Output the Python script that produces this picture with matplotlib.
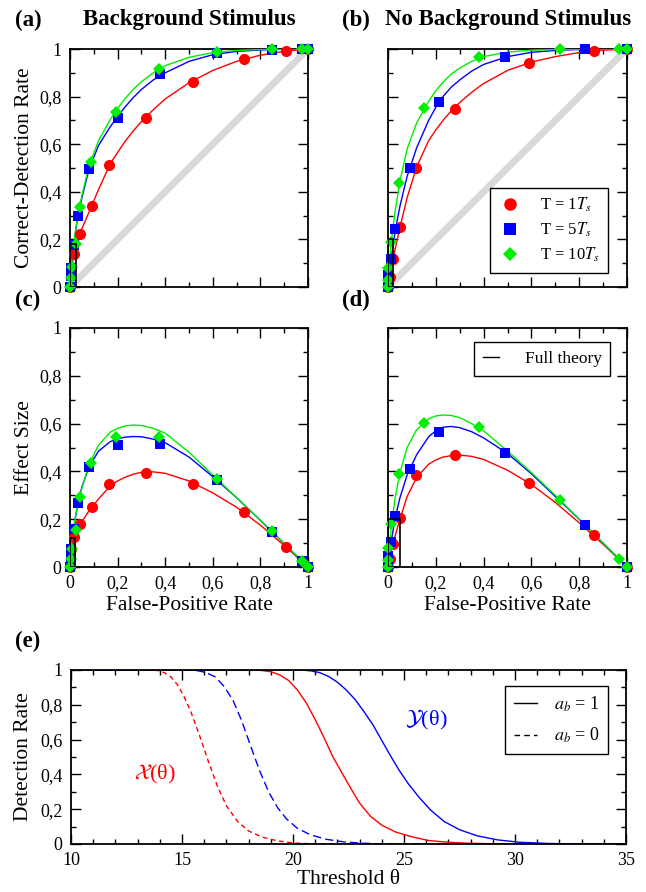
import matplotlib
matplotlib.use("Agg")
import matplotlib.pyplot as plt
from matplotlib.ticker import MultipleLocator, FuncFormatter
from matplotlib.lines import Line2D
from matplotlib.patches import Rectangle

plt.rcParams['font.family'] = ['Liberation Serif', 'DejaVu Serif']
plt.rcParams['mathtext.fontset'] = 'stix'

# ---- theory curves: false-positive grid shared by all ROC / effect-size curves
fpr_grid = [0, 0.002, 0.006, 0.015, 0.03, 0.05, 0.08, 0.12, 0.17, 0.2, 0.23, 0.265, 0.3, 0.35, 0.4, 0.5, 0.6, 0.7, 0.8, 0.9, 1.0]

# (a) background stimulus, correct-detection rate
roc_a_red = [0, 0.04, 0.08, 0.13, 0.19, 0.245, 0.315, 0.41, 0.52, 0.565, 0.61, 0.655, 0.695, 0.745, 0.79, 0.858, 0.91, 0.948, 0.974, 0.99, 1.0]
roc_a_blue = [0, 0.045, 0.09, 0.17, 0.28, 0.375, 0.495, 0.595, 0.675, 0.715, 0.755, 0.795, 0.83, 0.87, 0.90, 0.948, 0.976, 0.99, 0.996, 0.999, 1.0]
roc_a_green = [0, 0.05, 0.095, 0.175, 0.285, 0.385, 0.51, 0.615, 0.705, 0.75, 0.79, 0.83, 0.862, 0.90, 0.93, 0.965, 0.985, 0.994, 0.998, 1.0, 1.0]
# (b) no background stimulus
roc_b_red = [0, 0.02, 0.045, 0.09, 0.16, 0.25, 0.375, 0.505, 0.615, 0.66, 0.70, 0.74, 0.775, 0.818, 0.855, 0.91, 0.945, 0.968, 0.985, 0.995, 1.0]
roc_b_blue = [0, 0.03, 0.065, 0.13, 0.235, 0.34, 0.465, 0.585, 0.70, 0.755, 0.80, 0.84, 0.87, 0.907, 0.935, 0.968, 0.986, 0.994, 0.998, 1.0, 1.0]
roc_b_green = [0, 0.05, 0.10, 0.20, 0.32, 0.445, 0.58, 0.69, 0.78, 0.825, 0.86, 0.895, 0.92, 0.948, 0.968, 0.987, 0.995, 0.998, 0.999, 1.0, 1.0]
# (c) effect size, background stimulus
es_c_red = [0, 0.035, 0.07, 0.11, 0.155, 0.19, 0.235, 0.285, 0.34, 0.36, 0.375, 0.388, 0.396, 0.398, 0.392, 0.36, 0.31, 0.25, 0.175, 0.09, 0]
es_c_blue = [0, 0.04, 0.085, 0.16, 0.25, 0.335, 0.42, 0.485, 0.525, 0.537, 0.543, 0.546, 0.545, 0.535, 0.52, 0.46, 0.378, 0.29, 0.195, 0.098, 0]
es_c_green = [0, 0.045, 0.09, 0.165, 0.25, 0.33, 0.43, 0.51, 0.565, 0.58, 0.59, 0.594, 0.592, 0.58, 0.56, 0.48, 0.385, 0.29, 0.195, 0.098, 0]
# (d) effect size, no background stimulus
es_d_red = [0, 0.018, 0.04, 0.075, 0.13, 0.2, 0.295, 0.375, 0.43, 0.448, 0.46, 0.466, 0.468, 0.463, 0.45, 0.405, 0.345, 0.27, 0.185, 0.095, 0]
es_d_blue = [0, 0.028, 0.06, 0.115, 0.205, 0.29, 0.385, 0.47, 0.545, 0.57, 0.585, 0.588, 0.583, 0.566, 0.54, 0.475, 0.39, 0.295, 0.2, 0.1, 0]
es_d_green = [0, 0.045, 0.09, 0.18, 0.29, 0.395, 0.5, 0.575, 0.62, 0.632, 0.636, 0.634, 0.625, 0.60, 0.57, 0.485, 0.395, 0.3, 0.2, 0.1, 0]

# ---- simulation markers
a_red_fpr = [0, 0.005, 0.015, 0.042, 0.091, 0.164, 0.318, 0.515, 0.729, 0.906, 1]
a_red_cdr = [0, 0.08, 0.14, 0.224, 0.342, 0.511, 0.711, 0.861, 0.959, 0.99, 1]
a_red_es = [0, 0.075, 0.125, 0.182, 0.251, 0.347, 0.393, 0.346, 0.23, 0.084, 0]
a_blue_fpr = [0, 0.004, 0.006, 0.018, 0.032, 0.078, 0.2, 0.38, 0.617, 0.85, 0.976, 1]
a_blue_cdr = [0, 0.045, 0.08, 0.178, 0.30, 0.497, 0.709, 0.895, 0.982, 0.996, 1, 1]
a_blue_es = [0, 0.041, 0.074, 0.16, 0.268, 0.419, 0.509, 0.515, 0.365, 0.146, 0.024, 0]
a_green_fpr = [0, 0.004, 0.008, 0.024, 0.042, 0.088, 0.192, 0.373, 0.617, 0.85, 0.976, 1]
a_green_cdr = [0, 0.038, 0.084, 0.18, 0.336, 0.525, 0.734, 0.917, 0.987, 0.999, 1, 1]
a_green_es = [0, 0.034, 0.076, 0.156, 0.294, 0.437, 0.542, 0.544, 0.37, 0.149, 0.024, 0]

b_red_fpr = [0, 0.008, 0.022, 0.05, 0.117, 0.281, 0.59, 0.86, 1]
b_red_cdr = [0, 0.04, 0.117, 0.254, 0.501, 0.75, 0.94, 0.993, 1]
b_red_es = [0, 0.032, 0.095, 0.204, 0.384, 0.469, 0.35, 0.133, 0]
b_blue_fpr = [0, 0.002, 0.014, 0.031, 0.092, 0.214, 0.49, 0.825, 1]
b_blue_cdr = [0, 0.05, 0.119, 0.244, 0.501, 0.778, 0.966, 0.999, 1]
b_blue_es = [0, 0.048, 0.105, 0.213, 0.409, 0.564, 0.476, 0.174, 0]
b_green_fpr = [0, 0.001, 0.002, 0.013, 0.046, 0.152, 0.381, 0.72, 0.968, 1]
b_green_cdr = [0, 0.03, 0.08, 0.191, 0.436, 0.753, 0.966, 0.999, 1, 1]
b_green_es = [0, 0.029, 0.078, 0.178, 0.39, 0.601, 0.585, 0.279, 0.032, 0]

# ---- (e) detection rate vs threshold
x_dash_theta = [10, 13.6, 13.9, 14.2, 14.5, 14.8, 15.1, 15.4, 15.8, 16.2, 16.6, 17.0, 17.5, 18.0, 18.6, 19.3, 20.0, 21.0, 35]
x_dash_rate = [1, 1, 0.997, 0.985, 0.96, 0.915, 0.845, 0.76, 0.62, 0.47, 0.33, 0.22, 0.13, 0.075, 0.04, 0.018, 0.006, 0.0, 0]
y_dash_theta = [10, 15.3, 15.7, 16.1, 16.5, 16.9, 17.3, 17.7, 18.1, 18.5, 18.9, 19.3, 19.7, 20.2, 20.8, 21.5, 22.3, 23.2, 24.2, 35]
y_dash_rate = [1, 1, 0.996, 0.985, 0.96, 0.905, 0.825, 0.705, 0.56, 0.42, 0.30, 0.21, 0.145, 0.09, 0.052, 0.027, 0.012, 0.004, 0.0, 0]
x_solid_theta = [10, 18.2, 18.6, 19.0, 19.4, 19.8, 20.2, 20.6, 21.0, 21.4, 21.8, 22.2, 22.6, 23.0, 23.5, 24.0, 24.6, 25.3, 26.1, 27.0, 28.0, 29.5, 35]
x_solid_rate = [1, 1, 0.997, 0.99, 0.972, 0.94, 0.885, 0.81, 0.715, 0.61, 0.50, 0.41, 0.32, 0.235, 0.158, 0.108, 0.07, 0.043, 0.02, 0.01, 0.004, 0.0, 0]
y_solid_theta = [10, 20.4, 20.8, 21.2, 21.6, 22.0, 22.4, 22.8, 23.2, 23.6, 24.0, 24.4, 24.8, 25.2, 25.7, 26.2, 26.8, 27.5, 28.3, 29.2, 30.2, 31.5, 33, 35]
y_solid_rate = [1, 1, 0.995, 0.985, 0.963, 0.93, 0.885, 0.83, 0.76, 0.685, 0.595, 0.505, 0.42, 0.345, 0.265, 0.195, 0.13, 0.082, 0.047, 0.024, 0.01, 0.003, 0, 0]

RED, BLUE, GREEN = '#ff0000', '#0000ff', '#00ee00'
series_labels = ['T = 1$T_s$', 'T = 5$T_s$', 'T = 10$T_s$']


def comma(v, pos):
    if abs(v - round(v)) < 1e-9:
        return str(int(round(v)))
    return f'{v:.1f}'.replace('.', ',')


def ticks(ax):
    ax.tick_params(which='both', direction='in', top=True, right=True, width=1.0, labelsize=13, pad=6)
    ax.tick_params(which='major', length=7)
    ax.tick_params(which='minor', length=3.5)
    for s in ax.spines.values():
        s.set_linewidth(1.3)


def style(ax, xlab=True, ylab=True):
    ax.set_xlim(0, 1)
    ax.set_ylim(0, 1)
    ax.xaxis.set_major_locator(MultipleLocator(0.2))
    ax.xaxis.set_minor_locator(MultipleLocator(0.1))
    ax.yaxis.set_major_locator(MultipleLocator(0.2))
    ax.yaxis.set_minor_locator(MultipleLocator(0.1))
    ax.xaxis.set_major_formatter(FuncFormatter(comma))
    ax.yaxis.set_major_formatter(FuncFormatter(comma))
    ticks(ax)
    if not xlab:
        ax.tick_params(labelbottom=False)
    if not ylab:
        ax.tick_params(labelleft=False)


def markers(ax, r, b, g):
    ax.plot(r[0], r[1], 'o', color=RED, ms=8, mew=0, clip_on=False, zorder=4)
    ax.plot(b[0], b[1], 's', color=BLUE, ms=7, mew=0, clip_on=False, zorder=5)
    ax.plot(g[0], g[1], 'D', color=GREEN, ms=6.5, mew=0, clip_on=False, zorder=6)


def curves(ax, r, b, g):
    ax.plot(fpr_grid, r, color=RED, lw=1.0, zorder=3)
    ax.plot(fpr_grid, b, color=BLUE, lw=1.0, zorder=3)
    ax.plot(fpr_grid, g, color=GREEN, lw=1.0, zorder=3)


def framed(leg):
    leg.get_frame().set_linewidth(1.0)
    leg.set_zorder(10)


fig = plt.figure(figsize=(6.46, 8.92), dpi=100)
W, H = 646, 892


def box(l, t, r, b):
    return [l / W, 1 - b / H, (r - l) / W, (b - t) / H]


ax_a = fig.add_axes(box(70, 49, 308, 287))
ax_b = fig.add_axes(box(388, 49, 627, 287))
ax_c = fig.add_axes(box(70, 328, 308, 567))
ax_d = fig.add_axes(box(388, 328, 627, 567))
ax_e = fig.add_axes(box(71, 670, 626, 844))

# (a)
ax_a.plot([0, 1], [0, 1], color='#d9d9d9', lw=5, zorder=1, solid_capstyle='butt')
curves(ax_a, roc_a_red, roc_a_blue, roc_a_green)
markers(ax_a, (a_red_fpr, a_red_cdr), (a_blue_fpr, a_blue_cdr), (a_green_fpr, a_green_cdr))
ax_a.add_patch(Rectangle((0, 0), 0.025, 0.18, fill=False, ec='black', lw=1.2, zorder=7))
style(ax_a, xlab=False)
ax_a.set_ylabel('Correct-Detection Rate', fontsize=15.5)
ax_a.yaxis.set_label_coords(-0.15, 0.5)

# (b)
ax_b.plot([0, 1], [0, 1], color='#d9d9d9', lw=5, zorder=1, solid_capstyle='butt')
curves(ax_b, roc_b_red, roc_b_blue, roc_b_green)
markers(ax_b, (b_red_fpr, b_red_cdr), (b_blue_fpr, b_blue_cdr), (b_green_fpr, b_green_cdr))
ax_b.add_patch(Rectangle((0, 0), 0.022, 0.2, fill=False, ec='black', lw=1.2, zorder=7))
style(ax_b, xlab=False, ylab=False)
handles = [Line2D([], [], ls='', marker='o', color=RED, ms=9, mew=0),
           Line2D([], [], ls='', marker='s', color=BLUE, ms=8, mew=0),
           Line2D([], [], ls='', marker='D', color=GREEN, ms=7, mew=0)]
framed(ax_b.legend(handles, series_labels, loc='lower right', bbox_to_anchor=(0.92, 0.06),
                   fontsize=12, frameon=True, fancybox=False, edgecolor='black',
                   framealpha=1, handlelength=1.4, handletextpad=1.1, labelspacing=0.4,
                   borderpad=0.5, borderaxespad=0))

# (c)
curves(ax_c, es_c_red, es_c_blue, es_c_green)
markers(ax_c, (a_red_fpr, a_red_es), (a_blue_fpr, a_blue_es), (a_green_fpr, a_green_es))
ax_c.add_patch(Rectangle((0, 0), 0.02, 0.12, fill=False, ec='black', lw=1.2, zorder=7))
style(ax_c)
ax_c.set_ylabel('Effect Size', fontsize=15.5)
ax_c.yaxis.set_label_coords(-0.15, 0.5)
ax_c.set_xlabel('False-Positive Rate', fontsize=15.5)
ax_c.xaxis.set_label_coords(0.5, -0.12)

# (d)
curves(ax_d, es_d_red, es_d_blue, es_d_green)
markers(ax_d, (b_red_fpr, b_red_es), (b_blue_fpr, b_blue_es), (b_green_fpr, b_green_es))
ax_d.add_patch(Rectangle((0, 0), 0.05, 0.2, fill=False, ec='black', lw=1.2, zorder=7))
style(ax_d, ylab=False)
ax_d.set_xlabel('False-Positive Rate', fontsize=15.5)
ax_d.xaxis.set_label_coords(0.5, -0.12)
framed(ax_d.legend([Line2D([], [], color='black', lw=1.0)], ['Full theory'],
                   loc='upper right', bbox_to_anchor=(0.93, 0.94), fontsize=12.5,
                   frameon=True, fancybox=False, edgecolor='black', framealpha=1,
                   handlelength=0.9, handletextpad=1.5, borderpad=0.5, borderaxespad=0))

# (e)
ax_e.plot(x_dash_theta, x_dash_rate, color=RED, lw=1.0, dashes=(3.5, 2.5))
ax_e.plot(y_dash_theta, y_dash_rate, color=BLUE, lw=1.0, dashes=(6, 3))
ax_e.plot(x_solid_theta, x_solid_rate, color=RED, lw=1.0)
ax_e.plot(y_solid_theta, y_solid_rate, color=BLUE, lw=1.0)
ax_e.set_xlim(10, 35)
ax_e.set_ylim(0, 1)
ax_e.xaxis.set_major_locator(MultipleLocator(5))
ax_e.xaxis.set_minor_locator(MultipleLocator(1))
ax_e.yaxis.set_major_locator(MultipleLocator(0.2))
ax_e.yaxis.set_minor_locator(MultipleLocator(0.1))
ax_e.yaxis.set_major_formatter(FuncFormatter(comma))
ticks(ax_e)
ax_e.set_xlabel('Threshold θ', fontsize=15.5)
ax_e.xaxis.set_label_coords(0.5, -0.15)
ax_e.set_ylabel('Detection Rate', fontsize=15.5)
ax_e.yaxis.set_label_coords(-0.068, 0.5)
ax_e.text(13.8, 0.40, r'$\mathcal{X}$(θ)', color=RED, fontsize=16, ha='center', va='center')
ax_e.text(26.0, 0.71, r'$\mathcal{Y}$(θ)', color=BLUE, fontsize=16, ha='center', va='center')
framed(ax_e.legend([Line2D([], [], color='black', lw=1.0),
                    Line2D([], [], color='black', lw=1.0, dashes=(4, 3))],
                   ['$a_b$ = 1', '$a_b$ = 0'], loc='upper right', bbox_to_anchor=(0.968, 0.91),
                   fontsize=13, frameon=True, fancybox=False, edgecolor='black', framealpha=1,
                   handlelength=1.3, handletextpad=0.9, labelspacing=0.65, borderpad=0.5,
                   borderaxespad=0))

# panel letters and titles
bold = dict(fontsize=16.5, fontweight='bold', va='center')
fig.text(15 / W, 1 - 20 / H, '(a)', ha='left', **bold)
fig.text(189 / W, 1 - 20 / H, 'Background Stimulus', ha='center', **bold)
fig.text(342 / W, 1 - 20 / H, '(b)', ha='left', **bold)
fig.text(508 / W, 1 - 20 / H, 'No Background Stimulus', ha='center', **bold)
fig.text(15 / W, 1 - 300 / H, '(c)', ha='left', **bold)
fig.text(342 / W, 1 - 300 / H, '(d)', ha='left', **bold)
fig.text(15 / W, 1 - 641 / H, '(e)', ha='left', **bold)

fig.savefig('out.png', dpi=100)
